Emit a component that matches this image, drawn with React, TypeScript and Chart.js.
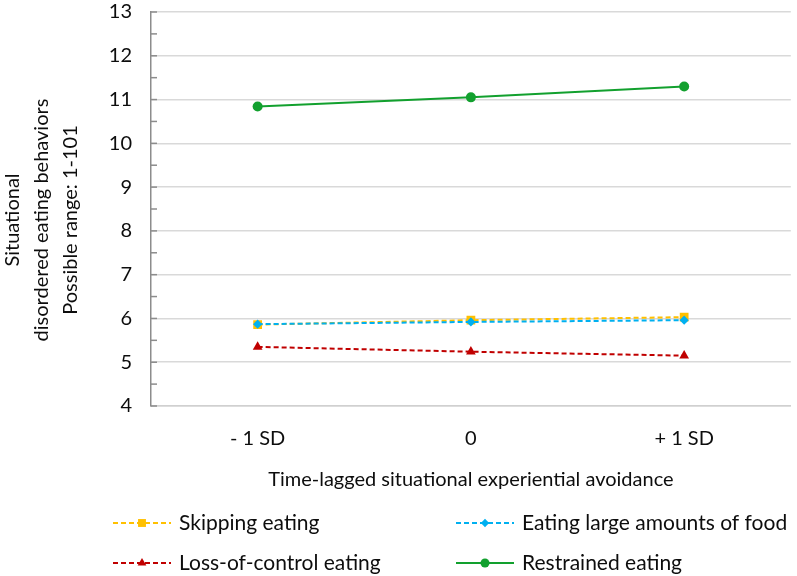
import React, { useEffect, useRef } from 'react';
import { Chart, registerables } from 'chart.js';

Chart.register(...registerables);

// ---- Data ----
const categories = ['- 1 SD', '0', '+ 1 SD'];
const skippingEating = [5.86, 5.96, 6.03];
const eatingLargeAmounts = [5.87, 5.92, 5.96];
const lossOfControlEating = [5.35, 5.24, 5.15];
const restrainedEating = [10.84, 11.05, 11.3];

const seriesLabels = [
  'Skipping eating',
  'Eating large amounts of food',
  'Loss-of-control eating',
  'Restrained eating',
];
const yMin = 4;
const yMax = 13;
const yStep = 1;
const xTitle = 'Time-lagged situational experiential avoidance';
const yTitle = ['Situational', 'disordered eating behaviors', 'Possible range: 1-101'];

// ---- Styles ----
const FONT = 'Lato, "Noto Sans", sans-serif';
const TEXT = '#0d0d0d';
const styles = [
  { color: '#FFC000', dash: [5, 3], point: 'rect', radius: 6.2 },
  { color: '#00B0F0', dash: [5, 3], point: 'rectRot', radius: 4.6 },
  { color: '#C00000', dash: [5, 3], point: 'triangle', radius: 5.6 },
  { color: '#12A02E', dash: [], point: 'circle', radius: 5 },
];
const seriesData = [skippingEating, eatingLargeAmounts, lossOfControlEating, restrainedEating];
const drawOrder = [2, 1, 3, 0];

function drawMarker(ctx: CanvasRenderingContext2D, style: string, x: number, y: number, r: number) {
  ctx.beginPath();
  if (style === 'rect') {
    const s = Math.SQRT1_2 * r;
    ctx.rect(x - s, y - s, 2 * s, 2 * s);
  } else if (style === 'rectRot') {
    ctx.moveTo(x, y - r);
    ctx.lineTo(x + r, y);
    ctx.lineTo(x, y + r);
    ctx.lineTo(x - r, y);
    ctx.closePath();
  } else if (style === 'triangle') {
    ctx.moveTo(x, y - r);
    ctx.lineTo(x + r * 0.866, y + r * 0.5);
    ctx.lineTo(x - r * 0.866, y + r * 0.5);
    ctx.closePath();
  } else {
    ctx.arc(x, y, r, 0, Math.PI * 2);
  }
  ctx.fill();
}

const legendCols = [113, 456];
const legendRows = [523, 563];
const sampleLen = 58;
const yTitleLineX = [13, 42, 71];
const yTitleCenterY = 220;

const customPlugin = {
  id: 'customDecor',
  beforeDatasetsDraw(chart: any) {
    const ctx = chart.ctx as CanvasRenderingContext2D;
    const y = chart.scales.y;
    const left = chart.chartArea.left;
    ctx.save();
    ctx.strokeStyle = '#8c8c8c';
    ctx.lineWidth = 1.5;
    for (let v = yMin; v <= yMax + 1e-9; v += yStep / 2) {
      const py = y.getPixelForValue(v);
      ctx.beginPath();
      ctx.moveTo(left, py);
      ctx.lineTo(left + 6, py);
      ctx.stroke();
    }
    ctx.restore();
  },
  afterDraw(chart: any) {
    const ctx = chart.ctx as CanvasRenderingContext2D;
    ctx.save();
    // y-axis title (three rotated lines)
    ctx.fillStyle = TEXT;
    ctx.font = `20px ${FONT}`;
    ctx.textAlign = 'center';
    ctx.textBaseline = 'middle';
    yTitle.forEach((line, i) => {
      ctx.save();
      ctx.translate(yTitleLineX[i], yTitleCenterY);
      ctx.rotate(-Math.PI / 2);
      ctx.fillText(line, 0, 0);
      ctx.restore();
    });
    // legend
    seriesLabels.forEach((label, i) => {
      const st = styles[i];
      const x0 = legendCols[i % 2];
      const yy = legendRows[Math.floor(i / 2)];
      ctx.strokeStyle = st.color;
      ctx.fillStyle = st.color;
      ctx.lineWidth = 2;
      ctx.setLineDash(st.dash);
      ctx.beginPath();
      ctx.moveTo(x0, yy);
      ctx.lineTo(x0 + sampleLen, yy);
      ctx.stroke();
      ctx.setLineDash([]);
      drawMarker(ctx, st.point, x0 + sampleLen / 2, yy, st.radius * 0.9);
      ctx.fillStyle = TEXT;
      ctx.font = `21px ${FONT}`;
      ctx.textBaseline = 'middle';
      ctx.textAlign = 'left';
      ctx.fillText(label, x0 + sampleLen + 8, yy);
    });
    ctx.restore();
  },
};

export default function App() {
  const canvasRef = useRef<HTMLCanvasElement | null>(null);

  useEffect(() => {
    document.body.style.margin = '0';
    const canvas = canvasRef.current;
    if (!canvas) return;
    const chart = new Chart(canvas, {
      type: 'line',
      data: {
        labels: categories,
        datasets: seriesLabels.map((label, i) => ({
          label,
          data: seriesData[i],
          borderColor: styles[i].color,
          backgroundColor: styles[i].color,
          borderWidth: 2,
          borderDash: styles[i].dash,
          pointStyle: styles[i].point as any,
          pointRadius: styles[i].radius,
          pointBorderWidth: 0,
          pointBackgroundColor: styles[i].color,
          tension: 0,
          fill: false,
          order: drawOrder[i],
        })),
      },
      options: {
        responsive: false,
        maintainAspectRatio: false,
        animation: false,
        layout: { padding: { top: 12, left: 0, right: 0, bottom: 0 } },
        plugins: {
          legend: { display: false },
          tooltip: { enabled: false },
        },
        scales: {
          x: {
            type: 'category',
            offset: true,
            grid: { display: false, drawTicks: false },
            border: { display: true, color: '#d0d0d0', width: 1.5 },
            ticks: {
              color: TEXT,
              font: { family: FONT, size: 20 },
              padding: 21,
              maxRotation: 0,
              autoSkip: false,
            },
            title: {
              display: true,
              text: xTitle,
              color: TEXT,
              font: { family: FONT, size: 20 },
              padding: { top: 0, bottom: 84 },
            },
            afterFit: (s: any) => {
              s.height = 170;
              s.paddingLeft = 0;
              s.paddingRight = 0;
            },
          },
          y: {
            min: yMin,
            max: yMax,
            ticks: {
              stepSize: yStep,
              color: TEXT,
              font: { family: FONT, size: 20 },
              padding: 19,
            },
            grid: { color: '#d9d9d9', lineWidth: 1.5, drawTicks: false },
            border: { color: '#8c8c8c', width: 1.5 },
            title: { display: false },
            afterFit: (s: any) => {
              s.width = 151;
              s.paddingTop = 0;
              s.paddingBottom = 0;
            },
          },
        },
      },
      plugins: [customPlugin],
    });
    return () => chart.destroy();
  }, []);

  return (
    <div style={{ width: 797, height: 576 }}>
      <canvas ref={canvasRef} width={797} height={576} style={{ display: 'block' }} />
    </div>
  );
}
